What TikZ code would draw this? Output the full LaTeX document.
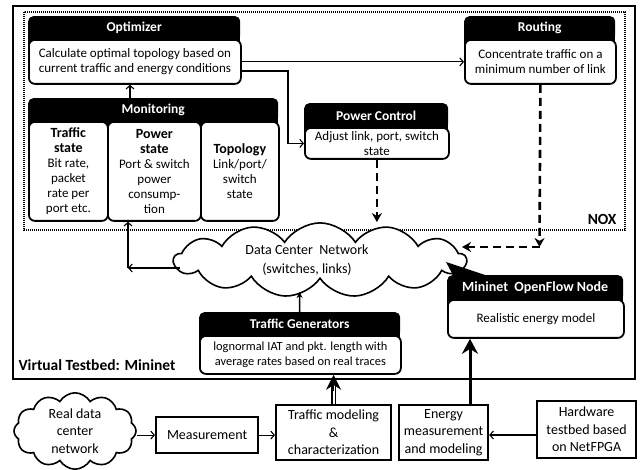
\documentclass[tikz,border=0pt]{standalone}
\usepackage{fontspec}
\setmainfont{Carlito}
\usetikzlibrary{shapes.symbols,arrows.meta,backgrounds}

\newcommand\hdfont{\fontsize{13.5}{15}\selectfont\bfseries}
\newcommand\txfont{\fontsize{13}{15}\selectfont}
\newcommand\subhd{\fontsize{14}{17}\selectfont\bfseries}
\newcommand\lowfont{\fontsize{14}{17.5}\selectfont}

\tikzset{
  hdr/.style={fill=black, text=white, font=\hdfont, rounded corners=5pt,
    inner sep=0pt, anchor=north west},
  bodybox/.style={draw, fill=white, line width=1.8pt, rounded corners=6pt,
    inner sep=0pt, align=center, anchor=north west, font=\txfont},
  plainbox/.style={draw, fill=white, line width=2.2pt, inner sep=0pt,
    align=center, anchor=north west, font=\lowfont},
  thinarrow/.style={line width=1.1pt, -{Straight Barb[length=3.5pt,width=8pt,line width=1.1pt]}},
  dasharrow/.style={line width=2.6pt, dash pattern=on 8pt off 5pt,
    -{Stealth[length=9pt,width=10pt]}},
  noxframe/.style={line width=2.6pt, dash pattern=on 1.1pt off 0.9pt},
  cloudshape/.style={cloud, draw, fill=white, line width=1.6pt, inner sep=0pt,
    align=center},
  hdrjoin/.style={fill=black},
}

\begin{document}
\begin{tikzpicture}[x=1pt,y=-1pt]
\useasboundingbox (0,0) rectangle (640,470);

% virtual testbed frame and NOX controller frame
\draw[line width=1.6pt] (13,6) rectangle (635,379);
\draw[noxframe] (24,12) rectangle (625,230);
\node[font=\fontsize{15.5}{17}\selectfont\bfseries, anchor=south east] (nox) at (620,228) {NOX};
\node[font=\fontsize{15.5}{17}\selectfont\bfseries, anchor=west] (vtlabel) at (15,365) {Virtual Testbed: Mininet};

% Optimizer
\node[hdr, minimum width=212pt, minimum height=24pt] (opth) at (28,16) {Optimizer};
\begin{scope}[on background layer]
  \fill[hdrjoin] ([yshift=6pt]opth.south west) rectangle ([yshift=-7pt]opth.south east);
\end{scope}
\node[bodybox, minimum width=212pt, minimum height=44pt] (optb) at (28,39)
  {Calculate optimal topology based on\\current traffic and energy conditions};

% Routing
\node[hdr, minimum width=151pt, minimum height=24pt] (routh) at (464,16) {Routing};
\begin{scope}[on background layer]
  \fill[hdrjoin] ([yshift=6pt]routh.south west) rectangle ([yshift=-7pt]routh.south east);
\end{scope}
\node[bodybox, minimum width=151pt, minimum height=44pt] (routb) at (464,39)
  {Concentrate traffic on a\\minimum number of link};

% Monitoring
\node[hdr, minimum width=250pt, minimum height=24pt] (monh) at (28,98) {Monitoring};
\begin{scope}[on background layer]
  \fill[hdrjoin] ([yshift=6pt]monh.south west) rectangle ([yshift=-8pt]monh.south east);
\end{scope}
\node[bodybox, minimum width=79pt, minimum height=99pt] (trf) at (28,121)
  {\subhd Traffic\\\subhd state\\\txfont Bit rate,\\packet\\rate per\\port etc.};
\node[bodybox, minimum width=93pt, minimum height=99pt] (pwr) at (107,121)
  {\subhd Power\\\subhd state\\\txfont Port \& switch\\power\\consump-\\tion};
\node[bodybox, minimum width=78pt, minimum height=99pt] (topo) at (200,121)
  {\subhd Topology\\\txfont Link/port/\\switch\\state};

% Power Control
\node[hdr, minimum width=144pt, minimum height=25pt] (pch) at (304,103) {Power Control};
\begin{scope}[on background layer]
  \fill[hdrjoin] ([yshift=6pt]pch.south west) rectangle ([yshift=-7pt]pch.south east);
\end{scope}
\node[bodybox, minimum width=144pt, minimum height=31pt] (pcb) at (304,127)
  {Adjust link, port, switch\\state};

% Data center network cloud (text set a little left of the middle)
\node[cloudshape, cloud puffs=13, cloud puff arc=115, aspect=4.4,
  minimum width=292pt, minimum height=64pt, font=\fontsize{14}{19}\selectfont]
  (dcn) at (320,260)
  {Data Center\ \ Network\hspace*{26pt}\\(switches, links)\hspace*{26pt}};

% Mininet OpenFlow node and its callout
\fill (446,262) -- (488,276) -- (454,277) -- cycle;
\node[hdr, minimum width=176pt, minimum height=25pt, font=\fontsize{14}{15}\selectfont\bfseries]
  (mnh) at (447,275) {Mininet\ \ OpenFlow Node};
\begin{scope}[on background layer]
  \fill[hdrjoin] ([yshift=6pt]mnh.south west) rectangle ([yshift=-7pt]mnh.south east);
\end{scope}
\node[bodybox, minimum width=176pt, minimum height=38pt] (mnb) at (447,299)
  {Realistic energy model};

% Traffic generators
\node[hdr, minimum width=201pt, minimum height=24pt] (tgh) at (199,312) {Traffic Generators};
\begin{scope}[on background layer]
  \fill[hdrjoin] ([yshift=6pt]tgh.south west) rectangle ([yshift=-7pt]tgh.south east);
\end{scope}
\node[bodybox, minimum width=201pt, minimum height=38pt, font=\fontsize{12.4}{15}\selectfont] (tgb) at (199,335)
  {lognormal IAT and pkt. length with\\average rates based on real traces};

% Measurement chain
\node[cloudshape, cloud puffs=12, cloud puff arc=120, aspect=1.6,
  minimum width=122pt, minimum height=74pt, font=\lowfont] (real) at (75,431)
  {Real data\\center\\network};
\node[plainbox, minimum width=102pt, minimum height=36pt] (meas) at (155,416) {Measurement};
\node[plainbox, minimum width=115pt, minimum height=55pt] (tm) at (275,404)
  {Traffic modeling\\\&\\characterization};
\node[plainbox, minimum width=89pt, minimum height=55pt] (en) at (398,404)
  {Energy\\measurement\\and modeling};
\node[plainbox, minimum width=99pt, minimum height=57pt] (hw) at (536,400)
  {Hardware\\testbed based\\on NetFPGA};

% control connections
\draw[thinarrow] (monh.north -| 130,0) -- (optb.south -| 130,0);
\draw[thinarrow] (optb.east) -- (routb.west);
\coordinate (optbend) at (288,71);
\draw[thinarrow] (optb.east |- optbend) -- (optbend) |- (pcb.west);
\draw[dasharrow] (pcb.south) -- (pcb.south |- dcn.north);

\coordinate (routcorner) at (539.5,247);
\coordinate (dcnright) at (462,247);
\draw[dasharrow] (routb.south) -- (routcorner);
\draw[dasharrow] (routcorner) -- (dcnright);

\coordinate (dcnleft) at (180,268);
\coordinate (moncorner) at (128,268);
\draw[thinarrow] (dcnleft) -- (moncorner);
\draw[thinarrow] (moncorner) -- (moncorner |- pwr.south);

\coordinate (dcnbottom) at (299.5,292);
\draw[line width=1.6pt, -{Stealth[length=6pt,width=6pt]}] (tgh.north) -- (dcnbottom);

% measurement connections
\draw[thinarrow] (real.east |- meas.west) -- (meas.west);
\draw[thinarrow] (meas.east) -- (tm.west |- meas.east);
\coordinate (hwout) at (536,435);
\draw[thinarrow] (hwout) -- (en.east |- hwout);

% thick feeds into the testbed
\draw[line width=1.1pt, double, double distance=2.2pt] (tm.north) -- ([yshift=-10pt]tm.north |- tgb.south);
\draw[line width=1.2pt, -{Stealth[length=15pt,width=15pt]}] ([yshift=-16pt]tm.north |- tgb.south) -- (tm.north |- tgb.south);
\coordinate (enout) at (470,404);
\draw[line width=3pt, -{Stealth[length=15pt,width=16pt]}] (enout) -- (enout |- mnb.south);
\end{tikzpicture}
\end{document}
